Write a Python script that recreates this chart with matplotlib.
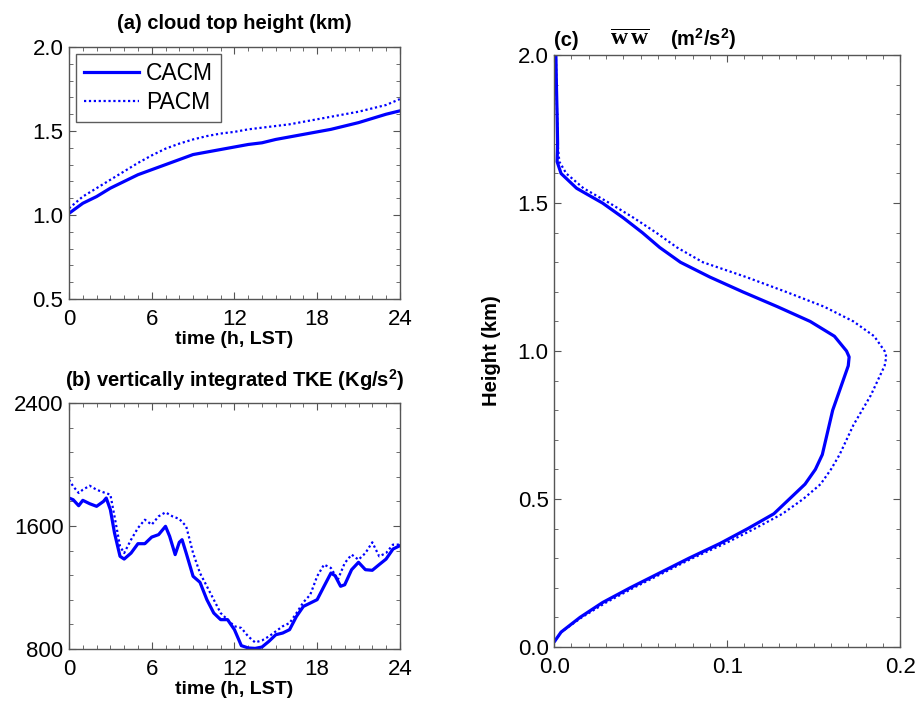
import numpy as np
import matplotlib
matplotlib.use('Agg')
import matplotlib.pyplot as plt
from matplotlib.ticker import MultipleLocator

plt.rcParams['font.family'] = ['Liberation Sans', 'DejaVu Sans']
plt.rcParams['mathtext.fontset'] = 'custom'
plt.rcParams['mathtext.rm'] = 'Liberation Sans:bold'
plt.rcParams['mathtext.bf'] = 'Liberation Serif:bold'

# (a) cloud top height, hourly
t_cth = list(range(25))
cth_cacm = [1.01, 1.07, 1.11, 1.16, 1.20, 1.24, 1.27, 1.30, 1.33, 1.36, 1.375, 1.39, 1.405,
            1.42, 1.43, 1.45, 1.465, 1.48, 1.495, 1.51, 1.53, 1.55, 1.575, 1.60, 1.62]
cth_pacm = [1.04, 1.11, 1.16, 1.21, 1.26, 1.31, 1.355, 1.395, 1.425, 1.45, 1.47, 1.485, 1.495,
            1.51, 1.52, 1.53, 1.54, 1.555, 1.57, 1.585, 1.60, 1.615, 1.635, 1.655, 1.69]

# (b) vertically integrated TKE
t_tke_c = [0, 0.3, 0.7, 1.0, 1.5, 2.0, 2.5, 2.7, 3.0, 3.3, 3.7, 4.0, 4.5, 5.0, 5.5, 6.0, 6.5, 7.0,
           7.3, 7.7, 8.0, 8.2, 8.5, 9.0, 9.5, 10.0, 10.5, 11.0, 11.5, 12.0, 12.5, 13.0, 13.5, 14.0,
           14.5, 15.0, 15.5, 16.0, 16.5, 17.0, 17.5, 18.0, 18.5, 19.0, 19.3, 19.7, 20.0, 20.5, 21.0,
           21.5, 22.0, 22.5, 23.0, 23.5, 24.0]
tke_cacm = [1782, 1771, 1732, 1767, 1745, 1728, 1760, 1782, 1706, 1555, 1403, 1385, 1424, 1485,
            1485, 1528, 1544, 1598, 1533, 1414, 1494, 1511, 1424, 1273, 1234, 1121, 1034, 991, 991,
            926, 822, 807, 804, 813, 850, 893, 904, 926, 1012, 1077, 1099, 1121, 1208, 1294, 1277,
            1208, 1218, 1316, 1364, 1316, 1312, 1349, 1385, 1450, 1472]
t_tke_p = [0, 0.3, 0.7, 1.0, 1.5, 2.0, 2.5, 3.0, 3.3, 3.7, 4.0, 4.5, 5.0, 5.5, 6.0, 6.5, 7.0, 7.5,
           8.0, 8.5, 9.0, 9.5, 10.0, 10.5, 11.0, 11.5, 12.0, 12.5, 13.0, 13.5, 14.0, 14.5, 15.0,
           15.5, 16.0, 16.5, 17.0, 17.5, 18.0, 18.5, 19.0, 19.5, 20.0, 20.5, 21.0, 21.5, 22.0, 22.5,
           23.0, 23.5, 24.0]
tke_pacm = [1901, 1858, 1815, 1836, 1862, 1836, 1819, 1804, 1663, 1468, 1424, 1511, 1587, 1641,
            1609, 1663, 1689, 1663, 1646, 1598, 1424, 1294, 1208, 1121, 1034, 991, 948, 937, 882,
            843, 856, 882, 915, 948, 969, 1034, 1104, 1153, 1273, 1349, 1327, 1251, 1359, 1414,
            1381, 1424, 1494, 1403, 1424, 1479, 1479]

# (c) ww profile
height = [0.02, 0.05, 0.1, 0.15, 0.2, 0.25, 0.3, 0.35, 0.4, 0.45, 0.5, 0.55, 0.6, 0.65, 0.7, 0.75,
          0.8, 0.85, 0.9, 0.95, 0.98, 1.0, 1.05, 1.1, 1.15, 1.2, 1.25, 1.3, 1.35, 1.4, 1.45, 1.5,
          1.55, 1.6, 1.64, 1.7, 1.8, 1.9, 2.0]
ww_cacm = [0.0004, 0.004, 0.015, 0.028, 0.044, 0.061, 0.078, 0.096, 0.112, 0.127, 0.136, 0.145,
           0.151, 0.155, 0.157, 0.159, 0.161, 0.164, 0.167, 0.170, 0.1705, 0.169, 0.162, 0.148,
           0.129, 0.109, 0.090, 0.073, 0.061, 0.051, 0.040, 0.028, 0.013, 0.004, 0.0017, 0.002,
           0.0017, 0.0013, 0.001]
ww_pacm = [0.0005, 0.004, 0.016, 0.030, 0.046, 0.063, 0.080, 0.099, 0.116, 0.132, 0.144, 0.154,
           0.160, 0.165, 0.169, 0.173, 0.178, 0.183, 0.187, 0.191, 0.192, 0.191, 0.185, 0.173,
           0.156, 0.134, 0.111, 0.086, 0.071, 0.059, 0.046, 0.032, 0.017, 0.007, 0.003, 0.002,
           0.0017, 0.0013, 0.001]

blue = '#0000ff'
solid_kw = dict(color=blue, lw=2.3, ls='-')
dot_kw = dict(color=blue, lw=1.6, ls=(0, (1, 1.2)))

fig = plt.figure(figsize=(9.19, 7.07), dpi=100)
ax_a = fig.add_axes([0.0751, 0.577, 0.360, 0.3565])
ax_b = fig.add_axes([0.0751, 0.082, 0.360, 0.348])
ax_c = fig.add_axes([0.603, 0.085, 0.3765, 0.837])


def style(ax):
    for s in ax.spines.values():
        s.set_color('#555555')
        s.set_linewidth(1.0)
    ax.tick_params(which='both', direction='in', top=True, right=True,
                   colors='#555555', labelcolor='black', labelsize=16)
    ax.tick_params(axis='x', pad=7)
    ax.tick_params(axis='y', pad=4)
    ax.tick_params(which='major', length=5)
    ax.tick_params(which='minor', length=3)


ax_a.plot(t_cth, cth_cacm, label='CACM', **solid_kw)
ax_a.plot(t_cth, cth_pacm, label='PACM', **dot_kw)
ax_a.set_xlim(0, 24)
ax_a.set_ylim(0.5, 2.0)
ax_a.xaxis.set_major_locator(MultipleLocator(6))
ax_a.xaxis.set_minor_locator(MultipleLocator(1))
ax_a.yaxis.set_major_locator(MultipleLocator(0.5))
ax_a.yaxis.set_minor_locator(MultipleLocator(0.1))
ax_a.yaxis.set_major_formatter('{x:.1f}')
ax_a.set_title('(a) cloud top height (km)', fontsize=14.5, fontweight='bold', pad=13)
ax_a.set_xlabel('time (h, LST)', fontsize=14, fontweight='bold', labelpad=1)
leg = ax_a.legend(loc='upper left', fontsize=16.5, frameon=True, fancybox=False,
                  borderaxespad=0.3, handlelength=2.4, handletextpad=0.3,
                  borderpad=0.35, labelspacing=0.25)
leg.get_frame().set_edgecolor('#333333')
leg.get_frame().set_linewidth(1.0)
style(ax_a)

ax_b.plot(t_tke_c, tke_cacm, **solid_kw)
ax_b.plot(t_tke_p, tke_pacm, **dot_kw)
ax_b.set_xlim(0, 24)
ax_b.set_ylim(800, 2400)
ax_b.xaxis.set_major_locator(MultipleLocator(6))
ax_b.xaxis.set_minor_locator(MultipleLocator(1))
ax_b.yaxis.set_major_locator(MultipleLocator(800))
ax_b.yaxis.set_minor_locator(MultipleLocator(160))
ax_b.set_title('(b) vertically integrated TKE (Kg/s$^2$)', fontsize=14.5,
               fontweight='bold', pad=12)
ax_b.set_xlabel('time (h, LST)', fontsize=14, fontweight='bold', labelpad=1)
style(ax_b)

ax_c.plot(ww_cacm, height, **solid_kw)
ax_c.plot(ww_pacm, height, **dot_kw)
ax_c.set_xlim(0, 0.2)
ax_c.set_ylim(0, 2.0)
ax_c.xaxis.set_major_locator(MultipleLocator(0.1))
ax_c.xaxis.set_minor_locator(MultipleLocator(0.01))
ax_c.yaxis.set_major_locator(MultipleLocator(0.5))
ax_c.yaxis.set_minor_locator(MultipleLocator(0.1))
ax_c.xaxis.set_major_formatter('{x:.1f}')
ax_c.yaxis.set_major_formatter('{x:.1f}')
ax_c.set_ylabel('Height (km)', fontsize=14.5, fontweight='bold', labelpad=12)
ax_c.text(0.0, 1.016, '(c)', transform=ax_c.transAxes, fontsize=14.5,
          fontweight='bold', ha='left', va='baseline')
ax_c.text(0.162, 1.016, r'$\overline{\mathbf{w\,w}}$', transform=ax_c.transAxes,
          fontsize=17, ha='left', va='baseline')
ax_c.text(0.335, 1.016, '(m$^2$/s$^2$)', transform=ax_c.transAxes, fontsize=14.5,
          fontweight='bold', ha='left', va='baseline')
style(ax_c)

fig.savefig('out.png', dpi=100)
